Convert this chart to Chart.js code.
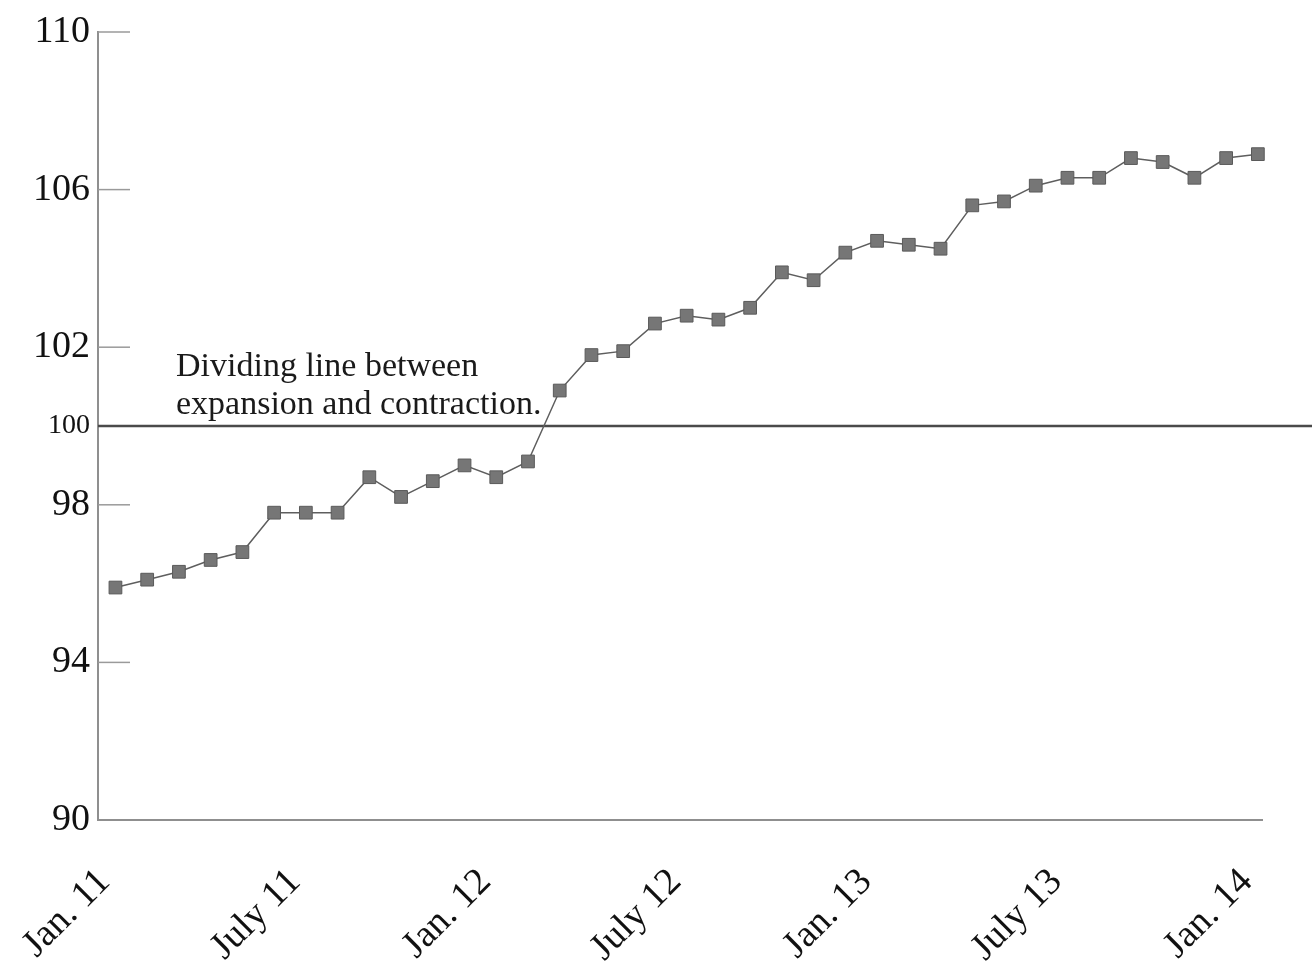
<!DOCTYPE html>
<html>
<head>
<meta charset="utf-8">
<script src="https://cdn.jsdelivr.net/npm/chart.js@4"></script>
<style>
  html, body { margin: 0; padding: 0; background: #fff; }
  #wrap { width: 1312px; height: 962px; }
</style>
</head>
<body>
<div id="wrap"><canvas id="indexChart"></canvas></div>
<script>
// Monthly index readings, Jan. 11 through Jan. 14
const indexValues = [
    95.9, 96.1, 96.3, 96.6, 96.8, 97.8, 97.8, 97.8, 98.7, 98.2, 98.6, 99.0,
    98.7, 99.1, 100.9, 101.8, 101.9, 102.6, 102.8, 102.7, 103.0, 103.9, 103.7, 104.4,
    104.7, 104.6, 104.5, 105.6, 105.7, 106.1, 106.3, 106.3, 106.8, 106.7, 106.3, 106.8,
    106.9
];

// x tick labels and the month (0 = Jan. 11) each one sits on
const tickLabels = ["Jan. 11", "July 11", "Jan. 12", "July 12", "Jan. 13", "July 13", "Jan. 14"];
const tickMonths = [0, 6, 12, 18, 24, 30, 36];

// y tick values; 100 is the expansion / contraction line
const yTicks = [90, 94, 98, 100, 102, 106, 110];
const dividingValue = 100;
const noteLines = ["Dividing line between", "expansion and contraction."];

const serif = "'Liberation Serif', 'Times New Roman', serif";

// Draws the inward y ticks, the 100 line and the note
const dividerPlugin = {
    id: "divider",
    beforeDatasetsDraw(chart) {
        const ctx = chart.ctx;
        const y = chart.scales.y;
        const area = chart.chartArea;

        ctx.save();
        ctx.strokeStyle = "#9a9a9a";
        ctx.lineWidth = 1.5;
        yTicks.forEach(v => {
            if (v === dividingValue || v === y.min) return;
            const py = y.getPixelForValue(v);
            ctx.beginPath();
            ctx.moveTo(area.left, py);
            ctx.lineTo(area.left + 32, py);
            ctx.stroke();
        });

        const ly = y.getPixelForValue(dividingValue);
        ctx.strokeStyle = "#4a4a4a";
        ctx.lineWidth = 2.5;
        ctx.beginPath();
        ctx.moveTo(area.left, ly);
        ctx.lineTo(chart.width, ly);
        ctx.stroke();

        ctx.fillStyle = "#1a1a1a";
        ctx.font = "34px " + serif;
        ctx.textAlign = "left";
        ctx.textBaseline = "alphabetic";
        ctx.fillText(noteLines[0], area.left + 78, ly - 50);
        ctx.fillText(noteLines[1], area.left + 78, ly - 12);
        ctx.restore();
    }
};

const ctx = document.getElementById("indexChart").getContext("2d");

new Chart(ctx, {
    type: "line",
    data: {
        datasets: [{
            data: indexValues.map((v, i) => ({ x: i, y: v })),
            borderColor: "#5e5e5e",
            borderWidth: 1.5,
            pointStyle: "rect",
            pointRadius: 9,
            pointBackgroundColor: "#767676",
            pointBorderColor: "#5a5a5a",
            pointBorderWidth: 1,
            tension: 0,
            clip: false
        }]
    },
    options: {
        responsive: true,
        maintainAspectRatio: false,
        animation: false,
        layout: { padding: { top: 32, right: 50, left: 0, bottom: 0 } },
        plugins: {
            legend: { display: false },
            tooltip: { enabled: false }
        },
        scales: {
            x: {
                type: "linear",
                min: -0.55,
                max: 36.13,
                grid: { display: false, drawTicks: false },
                border: { display: true, color: "#8f8f8f", width: 2 },
                afterBuildTicks: axis => {
                    axis.ticks = tickMonths.map(v => ({ value: v }));
                },
                afterFit: axis => {
                    axis.height = 142;
                    // labels may hang past the edges; keep the plot width fixed
                    axis.paddingLeft = 0;
                    axis.paddingRight = 0;
                },
                ticks: {
                    autoSkip: false,
                    minRotation: 45,
                    maxRotation: 45,
                    padding: 40,
                    labelOffset: -11,
                    color: "#111",
                    font: { family: serif, size: 38 },
                    callback: value => tickLabels[tickMonths.indexOf(value)]
                }
            },
            y: {
                min: 90,
                max: 110,
                grid: { display: false, drawTicks: false },
                border: { display: true, color: "#8f8f8f", width: 2 },
                afterBuildTicks: axis => {
                    axis.ticks = yTicks.map(v => ({ value: v }));
                },
                afterFit: axis => { axis.width = 98; },
                ticks: {
                    padding: 8,
                    color: "#111",
                    font: c => ({
                        family: serif,
                        size: c.tick && c.tick.value === dividingValue ? 28 : 38
                    })
                }
            }
        }
    },
    plugins: [dividerPlugin]
});
</script>
</body>
</html>
